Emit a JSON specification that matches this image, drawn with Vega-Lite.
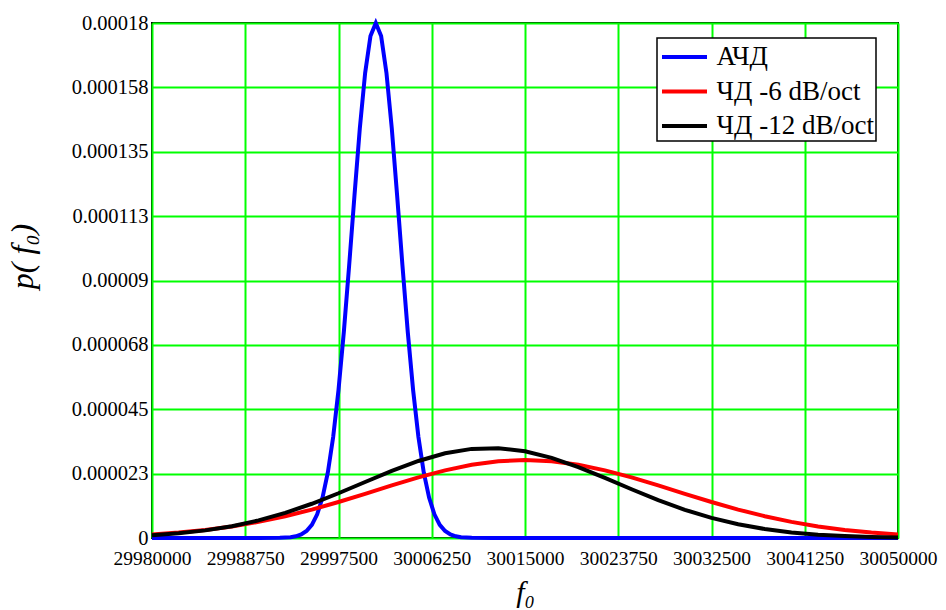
{
  "$schema": "https://vega.github.io/schema/vega-lite/v6.json",
  "width": 746,
  "height": 515,
  "autosize": {"type": "none"},
  "padding": {"left": 152, "top": 23, "right": 48, "bottom": 72},
  "background": "#ffffff",
  "data": {
    "values": [
      {"s": "АЧД", "f": 29980000, "p": 0},
      {"s": "АЧД", "f": 29990000, "p": 0},
      {"s": "АЧД", "f": 29992000, "p": 4.7e-8},
      {"s": "АЧД", "f": 29993000, "p": 2.7e-7},
      {"s": "АЧД", "f": 29993500, "p": 5.9e-7},
      {"s": "АЧД", "f": 29994000, "p": 1.23e-6},
      {"s": "АЧД", "f": 29994500, "p": 2.44e-6},
      {"s": "АЧД", "f": 29995000, "p": 4.61e-6},
      {"s": "АЧД", "f": 29995500, "p": 8.27e-6},
      {"s": "АЧД", "f": 29996000, "p": 1.412e-5},
      {"s": "АЧД", "f": 29996500, "p": 2.29e-5},
      {"s": "АЧД", "f": 29997000, "p": 3.53e-5},
      {"s": "АЧД", "f": 29997500, "p": 5.171e-5},
      {"s": "АЧД", "f": 29998000, "p": 7.2e-5},
      {"s": "АЧД", "f": 29998500, "p": 9.526e-5},
      {"s": "АЧД", "f": 29999000, "p": 1.1978e-4},
      {"s": "АЧД", "f": 29999500, "p": 1.4315e-4},
      {"s": "АЧД", "f": 30000000, "p": 1.6257e-4},
      {"s": "АЧД", "f": 30000500, "p": 1.7547e-4},
      {"s": "АЧД", "f": 30001000, "p": 1.8e-4},
      {"s": "АЧД", "f": 30001500, "p": 1.7547e-4},
      {"s": "АЧД", "f": 30002000, "p": 1.6257e-4},
      {"s": "АЧД", "f": 30002500, "p": 1.4315e-4},
      {"s": "АЧД", "f": 30003000, "p": 1.1978e-4},
      {"s": "АЧД", "f": 30003500, "p": 9.526e-5},
      {"s": "АЧД", "f": 30004000, "p": 7.2e-5},
      {"s": "АЧД", "f": 30004500, "p": 5.171e-5},
      {"s": "АЧД", "f": 30005000, "p": 3.53e-5},
      {"s": "АЧД", "f": 30005500, "p": 2.29e-5},
      {"s": "АЧД", "f": 30006000, "p": 1.412e-5},
      {"s": "АЧД", "f": 30006500, "p": 8.27e-6},
      {"s": "АЧД", "f": 30007000, "p": 4.61e-6},
      {"s": "АЧД", "f": 30007500, "p": 2.44e-6},
      {"s": "АЧД", "f": 30008000, "p": 1.23e-6},
      {"s": "АЧД", "f": 30008500, "p": 5.9e-7},
      {"s": "АЧД", "f": 30009000, "p": 2.7e-7},
      {"s": "АЧД", "f": 30010000, "p": 4.7e-8},
      {"s": "АЧД", "f": 30012000, "p": 0},
      {"s": "АЧД", "f": 30050000, "p": 0},

      {"s": "ЧД -6 dB/oct", "f": 29980000, "p": 1.24e-6},
      {"s": "ЧД -6 dB/oct", "f": 29982500, "p": 1.9e-6},
      {"s": "ЧД -6 dB/oct", "f": 29985000, "p": 2.81e-6},
      {"s": "ЧД -6 dB/oct", "f": 29987500, "p": 4.04e-6},
      {"s": "ЧД -6 dB/oct", "f": 29990000, "p": 5.63e-6},
      {"s": "ЧД -6 dB/oct", "f": 29992500, "p": 7.6e-6},
      {"s": "ЧД -6 dB/oct", "f": 29995000, "p": 9.93e-6},
      {"s": "ЧД -6 dB/oct", "f": 29997500, "p": 1.258e-5},
      {"s": "ЧД -6 dB/oct", "f": 30000000, "p": 1.545e-5},
      {"s": "ЧД -6 dB/oct", "f": 30002500, "p": 1.838e-5},
      {"s": "ЧД -6 dB/oct", "f": 30005000, "p": 2.118e-5},
      {"s": "ЧД -6 dB/oct", "f": 30007500, "p": 2.365e-5},
      {"s": "ЧД -6 dB/oct", "f": 30010000, "p": 2.559e-5},
      {"s": "ЧД -6 dB/oct", "f": 30012500, "p": 2.683e-5},
      {"s": "ЧД -6 dB/oct", "f": 30015000, "p": 2.726e-5},
      {"s": "ЧД -6 dB/oct", "f": 30017500, "p": 2.683e-5},
      {"s": "ЧД -6 dB/oct", "f": 30020000, "p": 2.559e-5},
      {"s": "ЧД -6 dB/oct", "f": 30022500, "p": 2.365e-5},
      {"s": "ЧД -6 dB/oct", "f": 30025000, "p": 2.118e-5},
      {"s": "ЧД -6 dB/oct", "f": 30027500, "p": 1.838e-5},
      {"s": "ЧД -6 dB/oct", "f": 30030000, "p": 1.545e-5},
      {"s": "ЧД -6 dB/oct", "f": 30032500, "p": 1.258e-5},
      {"s": "ЧД -6 dB/oct", "f": 30035000, "p": 9.93e-6},
      {"s": "ЧД -6 dB/oct", "f": 30037500, "p": 7.6e-6},
      {"s": "ЧД -6 dB/oct", "f": 30040000, "p": 5.63e-6},
      {"s": "ЧД -6 dB/oct", "f": 30042500, "p": 4.04e-6},
      {"s": "ЧД -6 dB/oct", "f": 30045000, "p": 2.81e-6},
      {"s": "ЧД -6 dB/oct", "f": 30047500, "p": 1.9e-6},
      {"s": "ЧД -6 dB/oct", "f": 30050000, "p": 1.24e-6},

      {"s": "ЧД -12 dB/oct", "f": 29980000, "p": 9.66e-7},
      {"s": "ЧД -12 dB/oct", "f": 29982500, "p": 1.638e-6},
      {"s": "ЧД -12 dB/oct", "f": 29985000, "p": 2.659e-6},
      {"s": "ЧД -12 dB/oct", "f": 29987500, "p": 4.133e-6},
      {"s": "ЧД -12 dB/oct", "f": 29990000, "p": 6.15e-6},
      {"s": "ЧД -12 dB/oct", "f": 29992500, "p": 8.768e-6},
      {"s": "ЧД -12 dB/oct", "f": 29995000, "p": 1.1966e-5},
      {"s": "ЧД -12 dB/oct", "f": 29997500, "p": 1.5641e-5},
      {"s": "ЧД -12 dB/oct", "f": 30000000, "p": 1.9576e-5},
      {"s": "ЧД -12 dB/oct", "f": 30002500, "p": 2.3463e-5},
      {"s": "ЧД -12 dB/oct", "f": 30005000, "p": 2.6927e-5},
      {"s": "ЧД -12 dB/oct", "f": 30007500, "p": 2.9594e-5},
      {"s": "ЧД -12 dB/oct", "f": 30010000, "p": 3.1146e-5},
      {"s": "ЧД -12 dB/oct", "f": 30012500, "p": 3.139e-5},
      {"s": "ЧД -12 dB/oct", "f": 30015000, "p": 3.0295e-5},
      {"s": "ЧД -12 dB/oct", "f": 30017500, "p": 2.7998e-5},
      {"s": "ЧД -12 dB/oct", "f": 30020000, "p": 2.4778e-5},
      {"s": "ЧД -12 dB/oct", "f": 30022500, "p": 2.0999e-5},
      {"s": "ЧД -12 dB/oct", "f": 30025000, "p": 1.7041e-5},
      {"s": "ЧД -12 dB/oct", "f": 30027500, "p": 1.3243e-5},
      {"s": "ЧД -12 dB/oct", "f": 30030000, "p": 9.856e-6},
      {"s": "ЧД -12 dB/oct", "f": 30032500, "p": 7.023e-6},
      {"s": "ЧД -12 dB/oct", "f": 30035000, "p": 4.794e-6},
      {"s": "ЧД -12 dB/oct", "f": 30037500, "p": 3.132e-6},
      {"s": "ЧД -12 dB/oct", "f": 30040000, "p": 1.96e-6},
      {"s": "ЧД -12 dB/oct", "f": 30042500, "p": 1.174e-6},
      {"s": "ЧД -12 dB/oct", "f": 30045000, "p": 6.74e-7},
      {"s": "ЧД -12 dB/oct", "f": 30047500, "p": 3.7e-7},
      {"s": "ЧД -12 dB/oct", "f": 30050000, "p": 1.95e-7}
    ]
  },
  "encoding": {
    "x": {
      "field": "f",
      "type": "quantitative",
      "title": "f₀",
      "scale": {"domain": [29980000, 30050000], "nice": false, "zero": false},
      "axis": {
        "values": [29980000, 29988750, 29997500, 30006250, 30015000, 30023750, 30032500, 30041250, 30050000],
        "format": "d",
        "labelOverlap": false,
        "labelBound": false,
        "labelFlush": false,
        "labelFontSize": 19.5,
        "labelPadding": 11,
        "titlePadding": 10
      }
    },
    "y": {
      "field": "p",
      "type": "quantitative",
      "title": "p( f₀)",
      "scale": {"domain": [0, 0.00018], "nice": false},
      "axis": {
        "values": [0, 0.0000225, 0.000045, 0.0000675, 0.00009, 0.0001125, 0.000135, 0.0001575, 0.00018],
        "labelExpr": "format(round(datum.value*1e6 + 0.001)/1e6, '.6~f')",
        "labelOverlap": false,
        "labelFontSize": 20.5,
        "labelPadding": 4,
        "titlePadding": 32,
        "titleFontSize": 32,
        "titleY": 233
      }
    },
    "color": {
      "field": "s",
      "type": "nominal",
      "scale": {
        "domain": ["АЧД", "ЧД -6 dB/oct", "ЧД -12 dB/oct"],
        "range": ["#0000ff", "#ff0000", "#000000"]
      },
      "legend": {"title": null}
    }
  },
  "layer": [
    {"transform": [{"filter": "datum.s === 'АЧД'"}], "mark": {"type": "line", "strokeWidth": 4}},
    {"transform": [{"filter": "datum.s === 'ЧД -6 dB/oct'"}], "mark": {"type": "line", "strokeWidth": 4}},
    {"transform": [{"filter": "datum.s === 'ЧД -12 dB/oct'"}], "mark": {"type": "line", "strokeWidth": 4}}
  ],
  "config": {
    "view": {"stroke": "#000000", "strokeWidth": 2},
    "axis": {
      "grid": true,
      "gridColor": "#00ff00",
      "gridWidth": 2,
      "gridOpacity": 1,
      "ticks": false,
      "domain": false,
      "labelFont": "Liberation Serif",
      "labelColor": "#000000",
      "titleFont": "Liberation Serif",
      "titleFontStyle": "italic",
      "titleFontWeight": "normal",
      "titleFontSize": 30,
      "titleColor": "#000000"
    },
    "legend": {
      "orient": "none",
      "legendX": 505,
      "legendY": 15,
      "strokeColor": "#000000",
      "strokeWidth": 1.5,
      "fillColor": "#ffffff",
      "padding": 2,
      "symbolType": "M-1.5,0L1.5,0",
      "symbolSize": 900,
      "symbolOffset": 8.5,
      "symbolStrokeWidth": 4,
      "symbolOpacity": 1,
      "labelFont": "Liberation Serif",
      "labelFontSize": 27,
      "labelColor": "#000000",
      "labelOffset": 15,
      "labelLimit": 300,
      "rowPadding": 4.5
    }
  }
}
